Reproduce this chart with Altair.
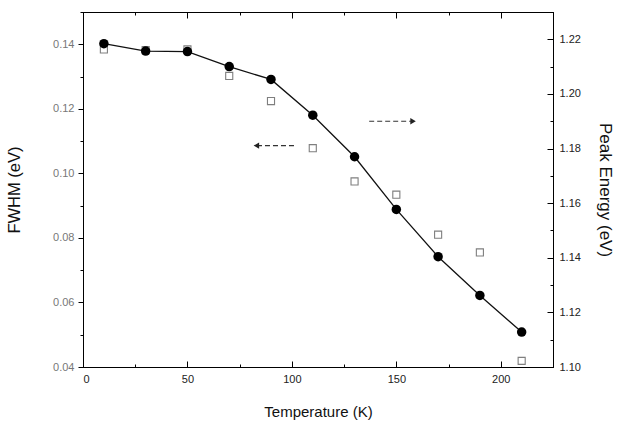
import altair as alt
import pandas as pd

# ---- data ----
temperature = [10, 30, 50, 70, 90, 110, 130, 150, 170, 190, 210]
peak_energy = [1.2184, 1.2157, 1.2155, 1.2100, 1.2053, 1.1922, 1.1770, 1.1577, 1.1404, 1.1262, 1.1128]
fwhm = [0.1384, 0.1382, 0.1384, 0.1302, 0.1224, 0.1078, 0.0975, 0.0934, 0.0810, 0.0755, 0.0419]

# annotation arrows (data coordinates): tail -> head
arrow_fwhm_x = [101, 83]      # points left, toward FWHM axis
arrow_fwhm_y = [0.1086]
arrow_peak_x = [137, 158]     # points right, toward Peak Energy axis
arrow_peak_y = [1.190]

x_ticks = [0, 25, 50, 75, 100, 125, 150, 175, 200, 225]
fwhm_ticks = [0.04, 0.05, 0.06, 0.07, 0.08, 0.09, 0.10, 0.11, 0.12, 0.13, 0.14, 0.15]
peak_ticks = [1.10, 1.11, 1.12, 1.13, 1.14, 1.15, 1.16, 1.17, 1.18, 1.19, 1.20, 1.21, 1.22, 1.23]

df = pd.DataFrame({"T": temperature, "E": peak_energy, "F": fwhm})
arr_l = pd.DataFrame({"x1": [arrow_fwhm_x[0]], "x2": [arrow_fwhm_x[1]], "y": arrow_fwhm_y})
arr_r = pd.DataFrame({"x1": [arrow_peak_x[0]], "x2": [arrow_peak_x[1]], "y": arrow_peak_y})

FONT = "Liberation Sans"
xscale = alt.Scale(domain=[0, 225], nice=False, zero=False)
fscale = alt.Scale(domain=[0.04, 0.15], nice=False, zero=False)
escale = alt.Scale(domain=[1.10, 1.23], nice=False, zero=False)

x_major = "datum.value % 50 == 0"
y_major = "round(datum.value*100) % 2 == 0"

x_axis_bottom = alt.Axis(
    orient="bottom", values=x_ticks, title="Temperature (K)",
    labelExpr=f"{x_major} ? datum.label : ''",
    tickSize={"condition": {"test": x_major, "value": -6}, "value": -3},
    labelPadding=12, titlePadding=20, grid=False,
)
x_axis_top = alt.Axis(
    orient="top", values=x_ticks, title=None, labels=False,
    tickSize={"condition": {"test": x_major, "value": -6}, "value": -3},
    grid=False,
)
f_axis = alt.Axis(
    orient="left", values=fwhm_ticks, title="FWHM (eV)",
    labelExpr=f"{y_major} ? format(datum.value, '.2f') : ''",
    tickSize={"condition": {"test": y_major, "value": 5}, "value": 3},
    labelColor="#777", labelPadding=4, titlePadding=30, titleFontSize=16.5, grid=False,
)
e_axis = alt.Axis(
    orient="right", values=peak_ticks, title="Peak Energy (eV)",
    labelExpr=f"{y_major} ? format(datum.value, '.2f') : ''",
    tickSize={"condition": {"test": y_major, "value": -6}, "value": -3},
    labelPadding=12, titlePadding=15, titleFontSize=17, grid=False,
)

# ---- left group: FWHM (open squares) ----
squares = alt.Chart(df).mark_point(
    shape="square", filled=False, size=50, color="#4a4a4a", strokeWidth=1.1
).encode(
    x=alt.X("T:Q", scale=xscale, axis=x_axis_bottom),
    y=alt.Y("F:Q", scale=fscale, axis=f_axis),
)
arrow_l_line = alt.Chart(arr_l).mark_rule(color="#333", strokeDash=[5, 3], strokeWidth=1.2).encode(
    x=alt.X("x1:Q", scale=xscale, axis=x_axis_bottom),
    x2="x2:Q",
    y=alt.Y("y:Q", scale=fscale, axis=f_axis),
)
arrow_l_head = alt.Chart(arr_l).mark_point(shape="triangle-left", filled=True, color="#222", size=40, opacity=1).encode(
    x=alt.X("x2:Q", scale=xscale, axis=x_axis_bottom),
    y=alt.Y("y:Q", scale=fscale, axis=f_axis),
)
left = alt.layer(squares, arrow_l_line, arrow_l_head)

# ---- right group: Peak energy (filled circles + line) ----
line = alt.Chart(df).mark_line(color="#111", strokeWidth=1.3).encode(
    x=alt.X("T:Q", scale=xscale, axis=x_axis_top),
    y=alt.Y("E:Q", scale=escale, axis=e_axis),
)
circles = alt.Chart(df).mark_point(shape="circle", filled=True, size=90, color="#000", opacity=1).encode(
    x=alt.X("T:Q", scale=xscale, axis=x_axis_top),
    y=alt.Y("E:Q", scale=escale, axis=e_axis),
)
arrow_r_line = alt.Chart(arr_r).mark_rule(color="#333", strokeDash=[5, 3], strokeWidth=1.2).encode(
    x=alt.X("x1:Q", scale=xscale, axis=x_axis_top),
    x2="x2:Q",
    y=alt.Y("y:Q", scale=escale, axis=e_axis),
)
arrow_r_head = alt.Chart(arr_r).mark_point(shape="triangle-right", filled=True, color="#222", size=40, opacity=1).encode(
    x=alt.X("x2:Q", scale=xscale, axis=x_axis_top),
    y=alt.Y("y:Q", scale=escale, axis=e_axis),
)
right = alt.layer(line, circles, arrow_r_line, arrow_r_head)

chart = alt.layer(left, right).resolve_scale(
    y="independent", x="independent"
).properties(
    width=470, height=355,
    autosize=alt.AutoSizeParams(type="none"),
    padding={"left": 83, "top": 12, "right": 66, "bottom": 66},
    background="white",
).configure_view(
    stroke="black", strokeWidth=1
).configure_axis(
    labelFont=FONT, titleFont=FONT, labelFontSize=11, titleFontSize=15,
    titleFontWeight="normal", labelColor="#222", titleColor="#111",
    domainColor="black", tickColor="black", domainWidth=1, tickWidth=1,
)

chart.save("out.html", embed_options={"renderer": "svg", "actions": False})
